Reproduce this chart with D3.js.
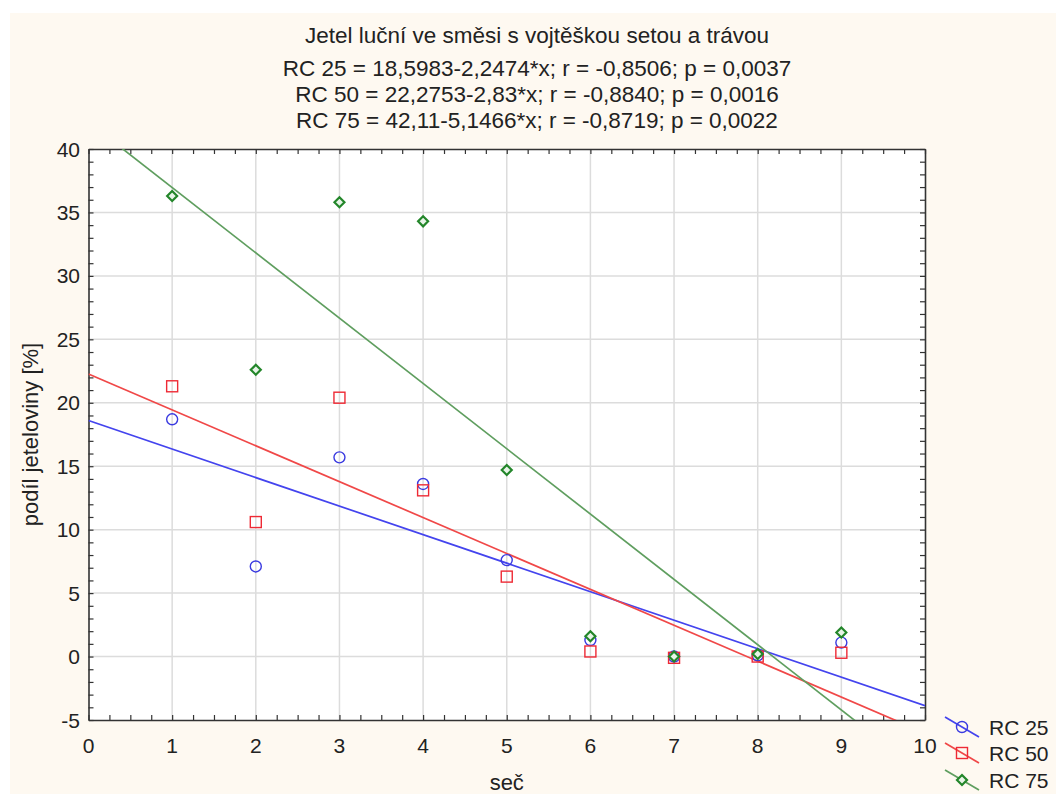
<!DOCTYPE html>
<html>
<head>
<meta charset="utf-8">
<script src="https://cdn.jsdelivr.net/npm/d3@7"></script>
<style>
  html, body { margin: 0; padding: 0; background: #ffffff; }
  svg { display: block; }
  text { font-family: "Liberation Sans", Arial, sans-serif; fill: #222; }
</style>
</head>
<body>
<svg id="chart" width="1056" height="794"></svg>
<script>
// Cutting number (seč) 1..9
const cuts = [1, 2, 3, 4, 5, 6, 7, 8, 9];

// Clover share [%] per seeding rate
const rc25 = [18.7, 7.1, 15.7, 13.6, 7.6, 1.3, 0.0, 0.1, 1.1];
const rc50 = [21.3, 10.6, 20.4, 13.1, 6.3, 0.4, -0.1, 0.0, 0.3];
const rc75 = [36.3, 22.6, 35.8, 34.3, 14.7, 1.6, 0.0, 0.2, 1.9];

// Linear fits: intercept, slope
const fit25 = [18.5983, -2.2474];
const fit50 = [22.2753, -2.83];
const fit75 = [42.11, -5.1466];

const seriesNames = ["RC 25", "RC 50", "RC 75"];

const titleLines = [
  "Jetel luční ve směsi s vojtěškou setou a trávou",
  "RC 25 = 18,5983-2,2474*x; r = -0,8506; p = 0,0037",
  "RC 50 = 22,2753-2,83*x; r = -0,8840; p = 0,0016",
  "RC 75 = 42,11-5,1466*x; r = -0,8719; p = 0,0022"
];

const xTicks = [0, 1, 2, 3, 4, 5, 6, 7, 8, 9, 10];
const yTicks = [-5, 0, 5, 10, 15, 20, 25, 30, 35, 40];

const svg = d3.select("#chart");

// cream page panel
svg.append("rect")
  .attr("x", 10).attr("y", 13)
  .attr("width", 1046).attr("height", 781)
  .attr("fill", "#fef9f1");

const plotL = 88.5, plotR = 925, plotT = 149, plotB = 720;
const x = d3.scaleLinear().domain([0, 10]).range([plotL, plotR]);
const y = d3.scaleLinear().domain([-5, 40]).range([plotB, plotT]);

// plot background
svg.append("rect")
  .attr("x", plotL).attr("y", plotT)
  .attr("width", plotR - plotL).attr("height", plotB - plotT)
  .attr("fill", "#ffffff");

// grid
const grid = svg.append("g").attr("stroke", "#dcdcdc").attr("stroke-width", 1.5);
grid.selectAll("line.gx").data(xTicks.slice(1, -1)).join("line")
  .attr("class", "gx")
  .attr("x1", d => x(d)).attr("x2", d => x(d))
  .attr("y1", plotT).attr("y2", plotB);
grid.selectAll("line.gy").data(yTicks.slice(1, -1)).join("line")
  .attr("class", "gy")
  .attr("x1", plotL).attr("x2", plotR)
  .attr("y1", d => y(d)).attr("y2", d => y(d));

// axes with inward minor ticks
const xMinor = d3.range(0, 10.001, 0.25);
const yMinor = d3.range(-5, 40.001, 1);

const axB = svg.append("g").attr("transform", `translate(0,${plotB})`)
  .call(d3.axisBottom(x).tickValues(xMinor).tickSizeInner(-5).tickSizeOuter(0).tickFormat(""));
const axT = svg.append("g").attr("transform", `translate(0,${plotT})`)
  .call(d3.axisTop(x).tickValues(xMinor).tickSizeInner(-5).tickSizeOuter(0).tickFormat(""));
const axL = svg.append("g").attr("transform", `translate(${plotL},0)`)
  .call(d3.axisLeft(y).tickValues(yMinor).tickSizeInner(-5).tickSizeOuter(0).tickFormat(""));
const axR = svg.append("g").attr("transform", `translate(${plotR},0)`)
  .call(d3.axisRight(y).tickValues(yMinor).tickSizeInner(-5).tickSizeOuter(0).tickFormat(""));
[axB, axT, axL, axR].forEach(a => {
  a.selectAll(".domain").attr("stroke", "#333").attr("stroke-width", 1.6);
  a.selectAll(".tick line").attr("stroke", "#333").attr("stroke-width", 1.2);
});

// tick labels
svg.append("g").selectAll("text").data(xTicks).join("text")
  .attr("x", d => x(d)).attr("y", 753)
  .attr("text-anchor", "middle").attr("font-size", 21)
  .text(d => d);
svg.append("g").selectAll("text").data(yTicks).join("text")
  .attr("x", 80).attr("y", d => y(d) + 7.5)
  .attr("text-anchor", "end").attr("font-size", 21)
  .text(d => d);

// axis titles
svg.append("text")
  .attr("x", x(5)).attr("y", 790)
  .attr("text-anchor", "middle").attr("font-size", 22)
  .text("seč");
svg.append("text")
  .attr("transform", `translate(38,${(plotT + plotB) / 2}) rotate(-90)`)
  .attr("text-anchor", "middle").attr("font-size", 22)
  .text("podíl jeteloviny [%]");

// title block
const titleY = [43, 76, 102, 128];
svg.append("g").selectAll("text").data(titleLines).join("text")
  .attr("x", 537).attr("y", (d, i) => titleY[i])
  .attr("text-anchor", "middle").attr("font-size", 22.5)
  .text(d => d);

// regression lines, clipped to plot
svg.append("clipPath").attr("id", "plotclip")
  .append("rect").attr("x", plotL).attr("y", plotT)
  .attr("width", plotR - plotL).attr("height", plotB - plotT);

const series = [
  { name: seriesNames[0], values: rc25, fit: fit25, line: "#4444ee", mark: "#3a3ae0", shape: "circle" },
  { name: seriesNames[1], values: rc50, fit: fit50, line: "#f04848", mark: "#ee2a35", shape: "square" },
  { name: seriesNames[2], values: rc75, fit: fit75, line: "#5f9e5f", mark: "#23862a", shape: "diamond" }
];

const lineGen = d3.line().x(d => x(d[0])).y(d => y(d[1]));
const fitG = svg.append("g").attr("clip-path", "url(#plotclip)");
series.forEach(s => {
  const pts = [0, 10].map(v => [v, s.fit[0] + s.fit[1] * v]);
  fitG.append("path").datum(pts)
    .attr("d", lineGen)
    .attr("fill", "none")
    .attr("stroke", s.line).attr("stroke-width", 1.7);
});

function drawMarker(g, shape, cx, cy, color) {
  if (shape === "circle") {
    g.append("circle").attr("cx", cx).attr("cy", cy).attr("r", 5.5)
      .attr("fill", "none").attr("stroke", color).attr("stroke-width", 1.4);
  } else if (shape === "square") {
    g.append("rect").attr("x", cx - 5.5).attr("y", cy - 5.5)
      .attr("width", 11).attr("height", 11)
      .attr("fill", "none").attr("stroke", color).attr("stroke-width", 1.4);
  } else {
    const r = 5;
    g.append("path")
      .attr("d", `M${cx},${cy - r}L${cx + r},${cy}L${cx},${cy + r}L${cx - r},${cy}Z`)
      .attr("fill", "#e8f4e8").attr("stroke", color).attr("stroke-width", 2.2);
  }
}

// data points
const ptsG = svg.append("g");
series.forEach(s => {
  s.values.forEach((v, i) => drawMarker(ptsG, s.shape, x(cuts[i]), y(v), s.mark));
});

// legend
const legY = [727, 753, 780];
const legG = svg.append("g");
series.forEach((s, i) => {
  const cy = legY[i];
  legG.append("line")
    .attr("x1", 945).attr("y1", cy - 10).attr("x2", 979).attr("y2", cy + 10)
    .attr("stroke", s.line).attr("stroke-width", 1.7);
  drawMarker(legG, s.shape, 962, cy, s.mark);
  legG.append("text").attr("x", 989).attr("y", cy + 7.5)
    .attr("font-size", 21).text(s.name);
});
</script>
</body>
</html>
